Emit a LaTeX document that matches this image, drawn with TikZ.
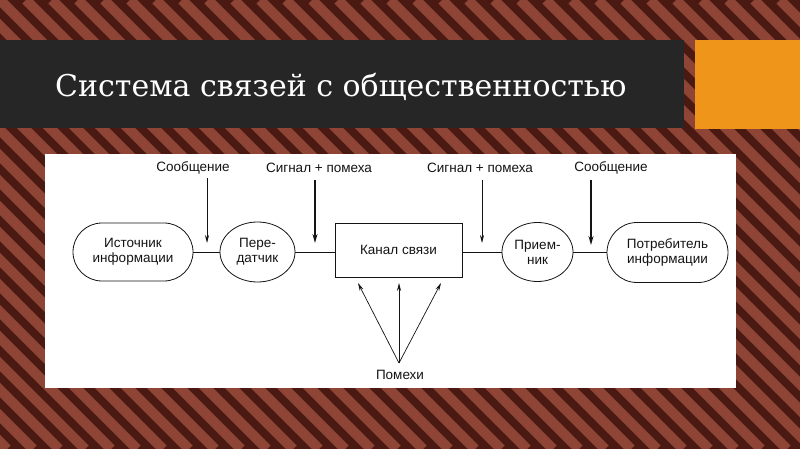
\documentclass[tikz,border=0pt]{standalone}
\usepackage{fontspec}
\setmainfont{Liberation Sans}
\newfontfamily\titlefont{DejaVu Serif}
\usetikzlibrary{shapes.misc,shapes.geometric,arrows.meta}
\definecolor{bgdark}{HTML}{4A1A12}
\definecolor{bglight}{HTML}{8E4535}
\definecolor{titlebar}{HTML}{262626}
\definecolor{accent}{HTML}{EF961A}
\definecolor{ink}{HTML}{141414}
\tikzset{
  stadium/.style={rounded rectangle, draw=ink, line width=0.8pt, minimum width=120pt, minimum height=58pt, align=center, inner sep=0pt},
  roundbox/.style={ellipse, draw=ink, line width=0.8pt, align=center, inner sep=0pt},
  chanbox/.style={rectangle, draw=ink, line width=1pt, minimum width=127pt, minimum height=54pt, align=center},
  lbl/.style={text=ink, font=\fontsize{13.5}{15}\selectfont, inner sep=0pt},
  link/.style={draw=ink, line width=0.6pt},
  arrthin/.style={draw=ink, line width=0.7pt, -{Stealth[length=8pt,width=4pt]}},
  arrthick/.style={draw=ink, line width=1.3pt, -{Stealth[length=9pt,width=5pt]}},
}
\begin{document}
\begin{tikzpicture}[x=1pt,y=-1pt]
\useasboundingbox (0,0) rectangle (800,449);
\fill[bgdark] (0,0) rectangle (800,449);
\begin{scope}
  \clip (0,0) rectangle (800,449);
  \foreach \i in {-20,...,34} {
    \draw[bglight, line width=10pt] (\i*26,0) -- ++(449,449);
  }
\end{scope}
% title bar and accent
\fill[titlebar] (0,40) rectangle (684,128);
\fill[accent] (695,40) rectangle (800,129);
\node[anchor=base west, text=white, inner sep=0pt, font=\titlefont\fontsize{30}{34}\selectfont] (title) at (55,97) {Система связей с общественностью};
% white panel
\fill[white] (45,154) rectangle (736,388);
% nodes
\node[stadium, lbl] (src) at (133,252) {Источник\\информации};
\node[roundbox, lbl, minimum width=75pt, minimum height=60pt] (tx) at (257.5,252) {Пере-\\датчик};
\node[chanbox, lbl] (ch) at (398.5,250) {Канал связи};
\node[roundbox, lbl, minimum width=71pt, minimum height=59pt] (rx) at (537.5,252) {Прием-\\ник};
\node[stadium, lbl, minimum width=121pt, minimum height=60pt] (dst) at (667.5,252.5) {Потребитель\\информации};
% links
\draw[link] (src.east) -- (tx.west);
\draw[link] (tx.east) -- (tx.east -| ch.west);
\draw[link] (rx.west -| ch.east) -- (rx.west);
\draw[link] (rx.east) -- (rx.east -| dst.west);
% top labels
\node[lbl] (m1) at (193,168) {Сообщение};
\node[lbl] (s1) at (319,168) {Сигнал + помеха};
\node[lbl] (s2) at (480,168) {Сигнал + помеха};
\node[lbl] (m2) at (611,168) {Сообщение};
\coordinate (m1a) at (207,178); \coordinate (m1b) at (207,243);
\coordinate (s1a) at (315,180); \coordinate (s1b) at (315,243);
\coordinate (s2a) at (482,180); \coordinate (s2b) at (482,243);
\coordinate (m2a) at (591,180); \coordinate (m2b) at (591,245);
\draw[arrthin] (m1a) -- (m1b);
\draw[arrthick] (s1a) -- (s1b);
\draw[arrthin] (s2a) -- (s2b);
\draw[arrthick] (m2a) -- (m2b);
% noise
\node[lbl] (noise) at (400,375) {Помехи};
\coordinate (n0) at (399,363);
\coordinate (n1) at (358,283);
\coordinate (n2) at (399,283);
\coordinate (n3) at (441,283);
\draw[arrthin] (n0) -- (n1);
\draw[arrthin] (n0) -- (n2);
\draw[arrthin] (n0) -- (n3);
\end{tikzpicture}
\end{document}
